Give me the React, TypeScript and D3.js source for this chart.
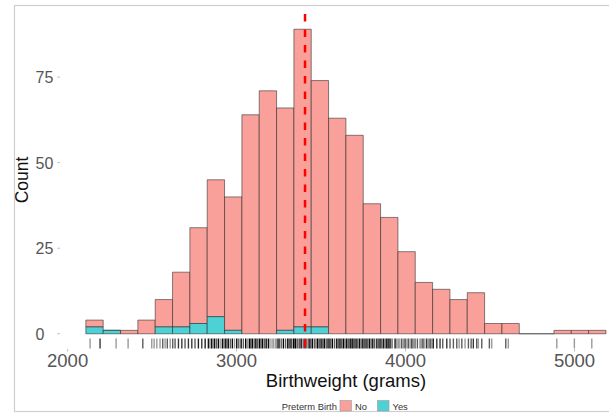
import React from "react";
import * as d3 from "d3";

// Histogram bins (grams)
const BIN_START = 2108;
const BIN_WIDTH = 102.6;
const noCounts = [2, 0, 1, 4, 8, 16, 28, 40, 39, 64, 71, 65, 87, 72, 63, 58, 38, 34, 24, 15, 13, 10, 12, 3, 3, 0, 0, 1, 1, 1];
const yesCounts = [2, 1, 0, 0, 2, 2, 3, 5, 1, 0, 0, 1, 2, 2, 0, 0, 0, 0, 0, 0, 0, 0, 0, 0, 0, 0, 0, 0, 0, 0];
const MEAN_WEIGHT = 3405;

const xTicks = [2000, 3000, 4000, 5000];
const yTicks = [0, 25, 50, 75];
const groups = ["No", "Yes"];
const groupColors = ["#F9A09A", "#4DD1D5"];

// Rug: [birthweight (g), number of births at that weight]
const rugData: [number, number][] = [
  [2133, 1], [2192, 3], [2287, 1], [2358, 1], [2445, 2], [2498, 1], [2512, 1], [2528, 1],
  [2547, 1], [2563, 2], [2577, 1], [2590, 2], [2607, 1], [2622, 2], [2636, 2], [2656, 3],
  [2676, 3], [2695, 2], [2715, 3], [2735, 3], [2754, 2], [2774, 4], [2794, 3], [2814, 4],
  [2833, 5], [2842, 1], [2852, 5], [2860, 1], [2869, 6], [2880, 2], [2892, 6], [2903, 1],
  [2916, 6], [2926, 2], [2936, 6], [2944, 1], [2951, 5], [2963, 2], [2975, 6], [2988, 1],
  [3001, 7], [3013, 2], [3027, 7], [3040, 2], [3054, 8], [3065, 1], [3076, 8], [3084, 2],
  [3093, 7], [3104, 2], [3114, 8], [3124, 2], [3135, 8], [3144, 2], [3153, 8], [3164, 2],
  [3175, 8], [3188, 6], [3198, 1], [3210, 1], [3220, 1], [3232, 1], [3241, 2], [3251, 8],
  [3264, 2], [3277, 8], [3290, 2], [3303, 8], [3312, 2], [3322, 8], [3336, 8], [3343, 2],
  [3350, 10], [3362, 2], [3372, 2], [3382, 10], [3394, 2], [3405, 10], [3416, 2], [3429, 10],
  [3438, 2], [3448, 8], [3460, 2], [3470, 2], [3480, 8], [3490, 2], [3500, 10], [3510, 2],
  [3519, 8], [3530, 2], [3538, 2], [3547, 8], [3557, 2], [3567, 8], [3580, 2], [3593, 8],
  [3603, 2], [3612, 8], [3622, 2], [3632, 8], [3642, 2], [3652, 8], [3662, 2], [3672, 8],
  [3680, 2], [3688, 8], [3697, 2], [3707, 8], [3717, 2], [3727, 6], [3737, 2], [3747, 6],
  [3756, 2], [3766, 6], [3776, 2], [3786, 6], [3796, 2], [3806, 6], [3817, 2], [3830, 5],
  [3840, 2], [3849, 6], [3859, 2], [3869, 5], [3879, 2], [3889, 8], [3898, 3], [3908, 10],
  [3920, 2], [3938, 5], [3948, 1], [3957, 1], [3966, 1], [3977, 2], [3987, 1], [3997, 3],
  [4008, 1], [4017, 2], [4027, 1], [4037, 3], [4046, 1], [4056, 2], [4070, 2], [4085, 1],
  [4093, 1], [4103, 3], [4114, 1], [4125, 3], [4135, 1], [4145, 3], [4155, 1], [4164, 4],
  [4185, 3], [4204, 3], [4220, 2], [4244, 3], [4263, 2], [4283, 2], [4303, 2], [4317, 1],
  [4333, 2], [4352, 1], [4372, 2], [4388, 2], [4401, 3], [4421, 2], [4431, 1], [4451, 2],
  [4496, 2], [4510, 1], [4593, 2], [4608, 1], [4895, 1], [4999, 1], [5102, 1],
];

const FONT = "'Liberation Sans', Arial, Helvetica, sans-serif";

export default function App() {
  const W = 609;
  const H = 416;
  const x = d3.scaleLinear().domain([1955, 5340]).range([60, 632]);
  const y = d3.scaleLinear().domain([-4.45, 93.45]).range([349, 14]);

  const bins = noCounts.map((n, i) => ({
    x0: BIN_START + i * BIN_WIDTH,
    x1: BIN_START + (i + 1) * BIN_WIDTH,
    yes: yesCounts[i],
    no: n,
  }));

  const seg = (x0: number, x1: number, v0: number, v1: number) => {
    const p = d3.path();
    p.moveTo(x(x0), y(v0));
    p.lineTo(x(x1), y(v0));
    p.lineTo(x(x1), y(v1));
    p.lineTo(x(x0), y(v1));
    p.closePath();
    return p.toString();
  };

  return (
    <svg
      width={W}
      height={H}
      style={{ position: "absolute", left: 0, top: 0, background: "#fff" }}
      fontFamily={FONT}
    >
      <rect x={0} y={0} width={W} height={H} fill="#fff" />
      <rect x={14.5} y={5.5} width={640} height={406} fill="none" stroke="#cfcfcf" strokeWidth={1.2} />

      {/* bars: No on top of Yes */}
      {bins.map((b, i) => (
        <g key={i}>
          <path
            d={seg(b.x0, b.x1, b.yes, b.yes + b.no)}
            fill={groupColors[0]}
            stroke="#222"
            strokeOpacity={0.6}
            strokeWidth={0.9}
          />
          {b.yes > 0 && (
            <path
              d={seg(b.x0, b.x1, 0, b.yes)}
              fill={groupColors[1]}
              stroke="#222"
              strokeOpacity={0.6}
              strokeWidth={0.9}
            />
          )}
        </g>
      ))}

      {/* rug */}
      {rugData.map(([g, n], i) => (
        <line
          key={"r" + i}
          x1={x(g)}
          x2={x(g)}
          y1={338.5}
          y2={348.5}
          stroke="#000"
          strokeWidth={1.4}
          strokeOpacity={1 - Math.pow(0.6, n)}
        />
      ))}

      {/* mean line */}
      <line
        x1={x(MEAN_WEIGHT)}
        x2={x(MEAN_WEIGHT)}
        y1={y.range()[1]}
        y2={y.range()[0]}
        stroke="#FF0000"
        strokeWidth={2.5}
        strokeDasharray="7.5 8"
      />

      {/* y axis */}
      {yTicks.map((t) => (
        <g key={"y" + t}>
          <line x1={57.3} x2={60} y1={y(t)} y2={y(t)} stroke="#bdbdbd" strokeWidth={1} />
          <text x={35.5} y={y(t) + 6} fontSize={16} fill="#555">
            {t}
          </text>
        </g>
      ))}

      {/* x axis */}
      {xTicks.map((t) => (
        <g key={"x" + t}>
          <line x1={x(t)} x2={x(t)} y1={349} y2={351.5} stroke="#bdbdbd" strokeWidth={1} />
          <text x={x(t)} y={366.5} fontSize={18.5} fill="#555" textAnchor="middle">
            {t}
          </text>
        </g>
      ))}

      <text x={346} y={386.5} fontSize={18.5} fill="#111" textAnchor="middle">
        Birthweight (grams)
      </text>
      <text
        transform="translate(27.5,180) rotate(-90)"
        fontSize={17.5}
        fill="#111"
        textAnchor="middle"
      >
        Count
      </text>

      {/* legend */}
      <text x={281.7} y={409.5} fontSize={9.4} fill="#333">
        Preterm Birth
      </text>
      {groups.map((g, i) => {
        const kx = [340, 377.5][i];
        return (
          <g key={g}>
            <rect x={kx} y={400.5} width={11.5} height={10.5} fill={groupColors[i]} stroke="#999" strokeWidth={0.6} />
            <text x={kx + 15} y={409.5} fontSize={9.4} fill="#333">
              {g}
            </text>
          </g>
        );
      })}
    </svg>
  );
}
